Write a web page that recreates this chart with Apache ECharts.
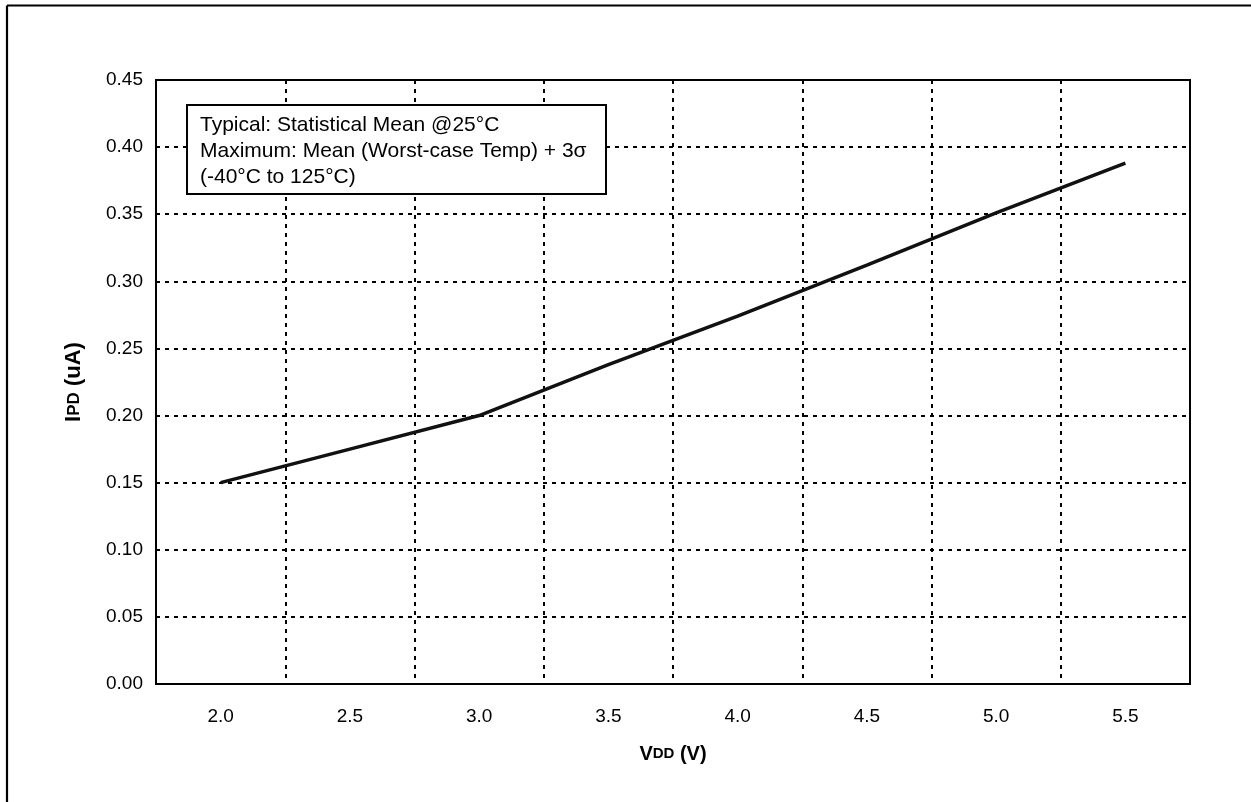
<!DOCTYPE html>
<html>
<head>
<meta charset="utf-8">
<script src="https://cdn.jsdelivr.net/npm/echarts@6/dist/echarts.min.js"></script>
<style>
html,body{margin:0;padding:0;background:#fff;}
#chart{width:1251px;height:802px;}
</style>
</head>
<body>
<div id="chart"></div>
<script>
// Data
var vddCategories = ['2.0', '2.5', '3.0', '3.5', '4.0', '4.5', '5.0', '5.5'];
var ipdValues = [0.150, 0.175, 0.200, 0.238, 0.274, 0.312, 0.351, 0.388];
var yTicks = { min: 0, max: 0.45, interval: 0.05 };
var noteLines = [
  'Typical: Statistical Mean @25°C',
  'Maximum: Mean (Worst-case Temp) + 3σ',
  '(-40°C to 125°C)'
];

var FONT = '"Liberation Sans", Arial, Helvetica, sans-serif';
var chart = echarts.init(document.getElementById('chart'), null, { renderer: 'canvas' });

var gridDots = { color: '#000', width: 2, type: [4, 5] };

chart.setOption({
  animation: false,
  backgroundColor: '#fff',
  textStyle: { fontFamily: FONT, color: '#000' },
  grid: {
    left: 156, top: 80, right: 61, bottom: 118,
    show: true, borderColor: '#000', borderWidth: 2, backgroundColor: 'transparent'
  },
  xAxis: {
    type: 'category',
    data: vddCategories,
    boundaryGap: true,
    axisLine: { show: true, lineStyle: { color: '#000', width: 2 } },
    axisTick: { show: false },
    axisLabel: { color: '#000', fontSize: 19, fontFamily: FONT, margin: 23 },
    splitLine: { show: true, lineStyle: gridDots },
    name: '{b|V}{s|DD}{b| (V)}',
    nameLocation: 'middle',
    nameGap: 60,
    nameTextStyle: {
      rich: {
        b: { fontSize: 20, fontWeight: 'bold', fontFamily: FONT, color: '#000' },
        s: { fontSize: 15, fontWeight: 'bold', fontFamily: FONT, color: '#000' }
      }
    }
  },
  yAxis: {
    type: 'value',
    min: yTicks.min, max: yTicks.max, interval: yTicks.interval,
    axisLine: { show: true, lineStyle: { color: '#000', width: 2 } },
    axisTick: { show: false },
    axisLabel: {
      color: '#000', fontSize: 19, fontFamily: FONT, margin: 13,
      formatter: function (v) { return v.toFixed(2); }
    },
    splitLine: { show: true, lineStyle: gridDots },
    name: '{b|I}{s|PD}{b| (uA)}',
    nameLocation: 'middle',
    nameGap: 71,
    nameTextStyle: {
      rich: {
        b: { fontSize: 22, fontWeight: 'bold', fontFamily: FONT, color: '#000' },
        s: { fontSize: 17, fontWeight: 'bold', fontFamily: FONT, color: '#000' }
      }
    }
  },
  series: [{
    type: 'line',
    data: ipdValues,
    showSymbol: false,
    symbol: 'none',
    lineStyle: { color: '#111', width: 3.5 },
    z: 5
  }],
  graphic: [
    { type: 'line', z: 100, shape: { x1: 7, y1: 5.5, x2: 1251, y2: 5.5 }, style: { stroke: '#000', lineWidth: 2.2 } },
    { type: 'line', z: 100, shape: { x1: 7, y1: 5.5, x2: 7, y2: 802 }, style: { stroke: '#000', lineWidth: 2.2 } },
    { type: 'rect', z: 100, shape: { x: 187, y: 105, width: 419, height: 89 }, style: { fill: '#fff', stroke: '#000', lineWidth: 2 } },
    { type: 'text', z: 101, x: 200, y: 112, style: { text: noteLines.join('\n'), font: '21px ' + FONT, lineHeight: 26, fill: '#000' } }
  ]
});
</script>
</body>
</html>
